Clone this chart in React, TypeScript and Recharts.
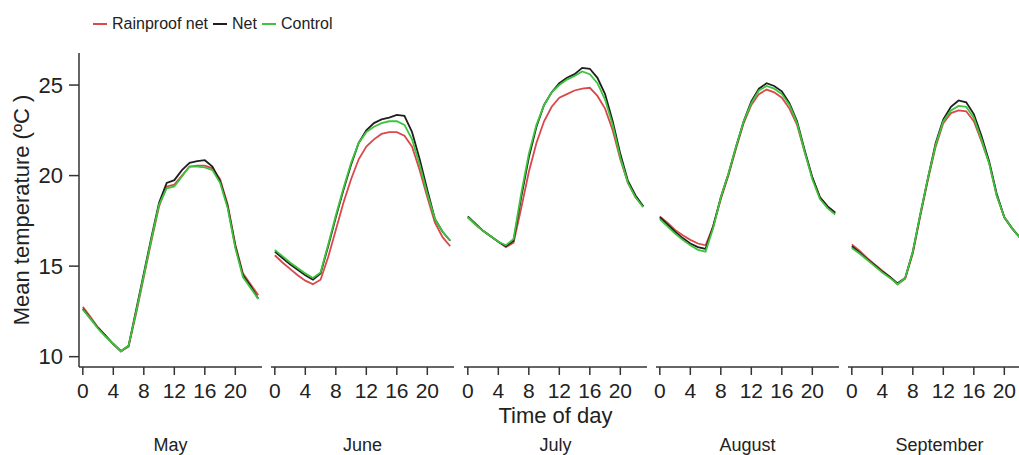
import { LineChart, Line, XAxis, YAxis, Label } from 'recharts';

// hourly means
const hours = [0, 1, 2, 3, 4, 5, 6, 7, 8, 9, 10, 11, 12, 13, 14, 15, 16, 17, 18, 19, 20, 21, 22, 23];
const xTicks = [0, 4, 8, 12, 16, 20];
const yTicks = [10, 15, 20, 25];

const mayRain = [12.75, 12.2, 11.6, 11.15, 10.7, 10.3, 10.55, 12.4, 14.4, 16.4, 18.3, 19.4, 19.5, 20.0, 20.5, 20.55, 20.55, 20.4, 19.8, 18.4, 16.2, 14.6, 14.0, 13.4];
const mayNet = [12.65, 12.1, 11.6, 11.15, 10.7, 10.3, 10.6, 12.6, 14.6, 16.6, 18.5, 19.6, 19.75, 20.3, 20.7, 20.8, 20.85, 20.5, 19.7, 18.3, 16.1, 14.5, 13.9, 13.2];
const mayControl = [12.6, 12.1, 11.55, 11.1, 10.7, 10.3, 10.6, 12.5, 14.5, 16.5, 18.4, 19.3, 19.4, 19.95, 20.5, 20.5, 20.45, 20.3, 19.6, 18.2, 16.0, 14.4, 13.8, 13.2];

const junRain = [15.6, 15.2, 14.85, 14.5, 14.2, 14.0, 14.25, 15.5, 17.0, 18.5, 19.8, 20.9, 21.6, 22.0, 22.3, 22.4, 22.4, 22.2, 21.6, 20.3, 18.8, 17.4, 16.6, 16.1];
const junNet = [15.8, 15.45, 15.1, 14.8, 14.5, 14.25, 14.6, 16.1, 17.7, 19.2, 20.6, 21.8, 22.5, 22.9, 23.1, 23.2, 23.35, 23.3, 22.4, 20.9, 19.2, 17.6, 16.9, 16.4];
const junControl = [15.9, 15.55, 15.2, 14.9, 14.6, 14.35, 14.65, 16.2, 17.8, 19.3, 20.7, 21.8, 22.4, 22.7, 22.9, 23.0, 23.0, 22.8, 22.0, 20.6, 19.0, 17.6, 16.9, 16.4];

const julRain = [17.7, 17.3, 16.95, 16.65, 16.35, 16.05, 16.3, 18.2, 20.2, 21.8, 23.0, 23.8, 24.3, 24.5, 24.7, 24.8, 24.85, 24.4, 23.7, 22.5, 20.9, 19.6, 18.8, 18.3];
const julNet = [17.75, 17.35, 16.95, 16.65, 16.35, 16.1, 16.4, 18.8, 21.0, 22.7, 23.9, 24.6, 25.1, 25.4, 25.6, 25.95, 25.9, 25.4, 24.5, 23.0, 21.2, 19.7, 18.9, 18.3];
const julControl = [17.7, 17.3, 16.95, 16.65, 16.35, 16.15, 16.5, 19.0, 21.2, 22.8, 23.9, 24.6, 25.0, 25.3, 25.5, 25.75, 25.6, 25.1, 24.2, 22.8, 21.0, 19.6, 18.8, 18.25];

const augRain = [17.75, 17.4, 17.0, 16.7, 16.45, 16.25, 16.15, 17.2, 18.7, 20.0, 21.5, 22.9, 23.9, 24.5, 24.75, 24.6, 24.3, 23.7, 22.8, 21.3, 19.9, 18.8, 18.3, 17.95];
const augNet = [17.7, 17.3, 16.9, 16.55, 16.25, 16.05, 15.95, 17.2, 18.8, 20.1, 21.6, 23.0, 24.1, 24.8, 25.1, 24.95, 24.65, 24.0, 23.0, 21.4, 19.9, 18.8, 18.3, 17.95];
const augControl = [17.6, 17.2, 16.8, 16.45, 16.15, 15.9, 15.8, 17.1, 18.8, 20.1, 21.6, 23.0, 24.0, 24.7, 24.95, 24.8, 24.5, 23.9, 22.9, 21.3, 19.8, 18.7, 18.2, 17.85];

const sepRain = [16.2, 15.85, 15.45, 15.1, 14.75, 14.4, 14.0, 14.3, 15.7, 17.8, 19.8, 21.6, 22.9, 23.45, 23.6, 23.55, 23.0, 21.9, 20.7, 18.9, 17.7, 17.1, 16.6, 16.3];
const sepNet = [16.1, 15.75, 15.4, 15.05, 14.7, 14.4, 14.05, 14.35, 15.8, 17.9, 19.9, 21.8, 23.1, 23.8, 24.15, 24.05, 23.4, 22.2, 20.8, 19.0, 17.7, 17.1, 16.6, 16.3];
const sepControl = [16.0, 15.7, 15.35, 15.0, 14.65, 14.35, 14.0, 14.35, 15.8, 17.9, 19.9, 21.7, 23.0, 23.6, 23.85, 23.8, 23.2, 22.0, 20.7, 18.9, 17.7, 17.1, 16.6, 16.3];

const months = ['May', 'June', 'July', 'August', 'September'];
const rainByMonth = [mayRain, junRain, julRain, augRain, sepRain];
const netByMonth = [mayNet, junNet, julNet, augNet, sepNet];
const controlByMonth = [mayControl, junControl, julControl, augControl, sepControl];

const seriesKeys = ['rain', 'net', 'control'];
const seriesNames = ['Rainproof net', 'Net', 'Control'];
const seriesColors = ['#d9484b', '#1f1f1f', '#3cc43c'];

const PLOT_LEFT = 79;
const PLOT_W = 183;
const PANEL_STEP = 192.3;
const PAD = 12; // room so the "0" label of inner panels is not clipped
const Y_DOMAIN = [9.43, 26.77];
const AXIS = '#333';
const TEXT = '#222';

function buildRows(m: number) {
    return hours.map((h, i) => ({
        hour: h,
        rain: rainByMonth[m][i],
        net: netByMonth[m][i],
        control: controlByMonth[m][i],
    }));
}

function MonthPanel({ index }: { index: number }) {
    const first = index === 0;
    const left = first ? 0 : PLOT_LEFT + index * PANEL_STEP - PAD;
    const width = PLOT_W + (first ? PLOT_LEFT : PAD) + PAD;
    return (
        <div style={{ position: 'absolute', left, top: 0 }}>
            <LineChart
                width={width}
                height={455}
                data={buildRows(index)}
                margin={{ top: 53, right: PAD, bottom: 0, left: first ? 0 : PAD }}
            >
                <XAxis
                    dataKey="hour"
                    type="number"
                    domain={[-0.5, 23.5]}
                    ticks={xTicks}
                    interval={0}
                    allowDataOverflow
                    height={88}
                    tickSize={8}
                    tickMargin={8}
                    stroke={AXIS}
                    strokeWidth={1.5}
                    tick={{ fill: TEXT, fontSize: 21 }}
                >
                    <Label value={months[index]} position="insideBottom" offset={4} fontSize={18} fill={TEXT} />
                    {index === 2 && (
                        <Label value="Time of day" position="insideBottom" offset={32} fontSize={22} fill={TEXT} />
                    )}
                </XAxis>
                {first ? (
                    <YAxis
                        type="number"
                        domain={Y_DOMAIN}
                        ticks={yTicks}
                        interval={0}
                        allowDataOverflow
                        width={PLOT_LEFT}
                        tickSize={10}
                        tickMargin={6}
                        stroke={AXIS}
                        strokeWidth={1.5}
                        tick={{ fill: TEXT, fontSize: 22 }}
                    >
                        <Label value="Mean temperature (ºC )" angle={-90} position="center" dx={-18.5} fontSize={22} fill={TEXT} />
                    </YAxis>
                ) : (
                    <YAxis hide type="number" domain={Y_DOMAIN} allowDataOverflow />
                )}
                {seriesKeys.map((k, i) => (
                    <Line
                        key={k}
                        type="linear"
                        dataKey={k}
                        name={seriesNames[i]}
                        stroke={seriesColors[i]}
                        strokeWidth={1.8}
                        dot={false}
                        activeDot={false}
                        isAnimationActive={false}
                    />
                ))}
            </LineChart>
        </div>
    );
}

export default function App() {
    return (
        <div
            style={{
                position: 'absolute',
                left: 0,
                top: 0,
                width: 1019,
                height: 455,
                overflow: 'hidden',
                background: '#fff',
                fontFamily: 'Arial, "Liberation Sans", sans-serif',
            }}
        >
            <div style={{ position: 'absolute', left: 93, top: 14, display: 'flex', alignItems: 'center', fontSize: 16, lineHeight: '20px', color: TEXT }}>
                {seriesNames.map((n, i) => (
                    <div key={n} style={{ display: 'flex', alignItems: 'center', marginRight: 5 }}>
                        <span style={{ display: 'inline-block', width: 14, height: 2, background: seriesColors[i], marginRight: 5 }} />
                        <span>{n}</span>
                    </div>
                ))}
            </div>
            {months.map((m, i) => (
                <MonthPanel key={m} index={i} />
            ))}
        </div>
    );
}
